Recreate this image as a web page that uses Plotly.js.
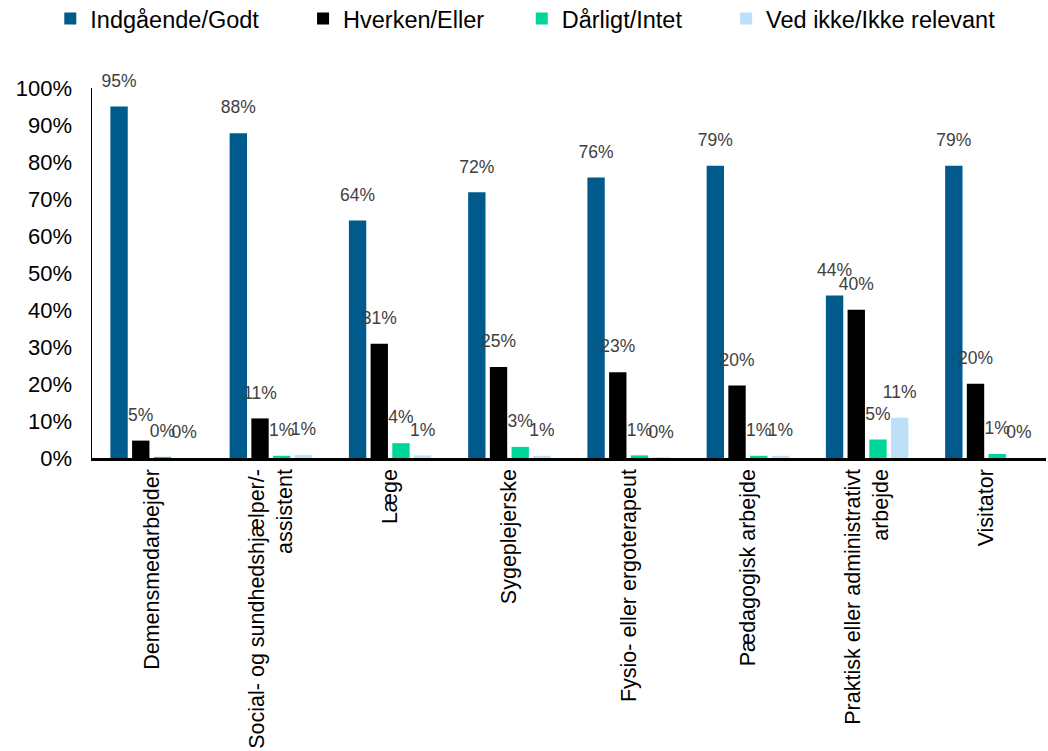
<!DOCTYPE html>
<html>
<head>
<meta charset="utf-8">
<script src="https://cdn.plot.ly/plotly-3.0.1.min.js"></script>
<style>html,body{margin:0;padding:0;background:#fff;}#chart{width:1048px;height:751px;}</style>
</head>
<body>
<div id="chart"></div>
<script>
const categories = [
  "Demensmedarbejder",
  "Social- og sundhedshjælper/-<br>assistent",
  "Læge",
  "Sygeplejerske",
  "Fysio- eller ergoterapeut",
  "Pædagogisk arbejde",
  "Praktisk eller administrativt<br>arbejde",
  "Visitator"
];
const seriesNames = ["Indgående/Godt", "Hverken/Eller", "Dårligt/Intet", "Ved ikke/Ikke relevant"];
const godt     = [95, 87.8, 64.2, 71.8, 75.8, 79.0, 43.9, 79.0];
const hverken  = [4.7, 10.7, 30.9, 24.6, 23.2, 19.6, 40.1, 20.1];
const daarligt = [0.3, 0.6, 4.0, 3.0, 0.7, 0.6, 5.0, 1.1];
const vedikke  = [0.0, 0.8, 0.7, 0.6, 0.2, 0.6, 10.9, 0.0];
const colors = ["#005A8C", "#000000", "#00D69A", "#BDDFF8"];
const legendPad = ["\u00a0\u00a0\u00a0\u00a0\u00a0\u00a0", "\u00a0\u00a0\u00a0\u00a0\u00a0", "\u00a0\u00a0\u00a0\u00a0\u00a0\u00a0", ""];

const allSeries = [godt, hverken, daarligt, vedikke];
const FONT = "Liberation Sans, Arial, sans-serif";

const traces = [];
allSeries.forEach((vals, i) => {
  traces.push({
    type: "bar",
    name: seriesNames[i] + legendPad[i],
    x: categories,
    y: vals,
    marker: {color: colors[i], line: {width: 0}},
    hoverinfo: "skip"
  });
});
allSeries.forEach((vals, i) => {
  traces.push({
    type: "scatter",
    mode: "markers+text",
    x: categories,
    y: vals,
    text: vals.map(v => Math.round(v) + "%"),
    textposition: "top center",
    textfont: {family: FONT, size: 17.5, color: "#404040"},
    marker: {size: 23, opacity: 0},
    cliponaxis: false,
    showlegend: false,
    hoverinfo: "skip"
  });
});

const layout = {
  width: 1048,
  height: 751,
  margin: {l: 92, r: 2, t: 88, b: 293},
  paper_bgcolor: "#ffffff",
  plot_bgcolor: "#ffffff",
  font: {family: FONT, color: "#000000"},
  barmode: "group",
  scattermode: "group",
  bargap: 0.272,
  bargroupgap: 0.2,
  showlegend: true,
  legend: {
    orientation: "h",
    xref: "container", yref: "container",
    x: 0.048, y: 0.975,
    xanchor: "left", yanchor: "middle",
    font: {family: FONT, size: 23.5, color: "#000000"},
    traceorder: "normal",
    itemclick: false
  },
  xaxis: {
    type: "category",
    tickangle: -90,
    tickfont: {family: FONT, size: 21.5, color: "#000000"},
    showline: true,
    linecolor: "#000000",
    linewidth: 2.5,
    ticks: "",
    showgrid: false,
    zeroline: false,
    fixedrange: true
  },
  yaxis: {
    range: [0, 100],
    dtick: 10,
    tick0: 0,
    ticksuffix: "%",
    tickfont: {family: FONT, size: 22, color: "#000000"},
    showline: true,
    linecolor: "#000000",
    linewidth: 1.5,
    ticks: "",
    ticklabelstandoff: 14,
    showgrid: false,
    zeroline: false,
    fixedrange: true
  }
};

Plotly.newPlot("chart", traces, layout, {displayModeBar: false, staticPlot: true});
</script>
</body>
</html>
